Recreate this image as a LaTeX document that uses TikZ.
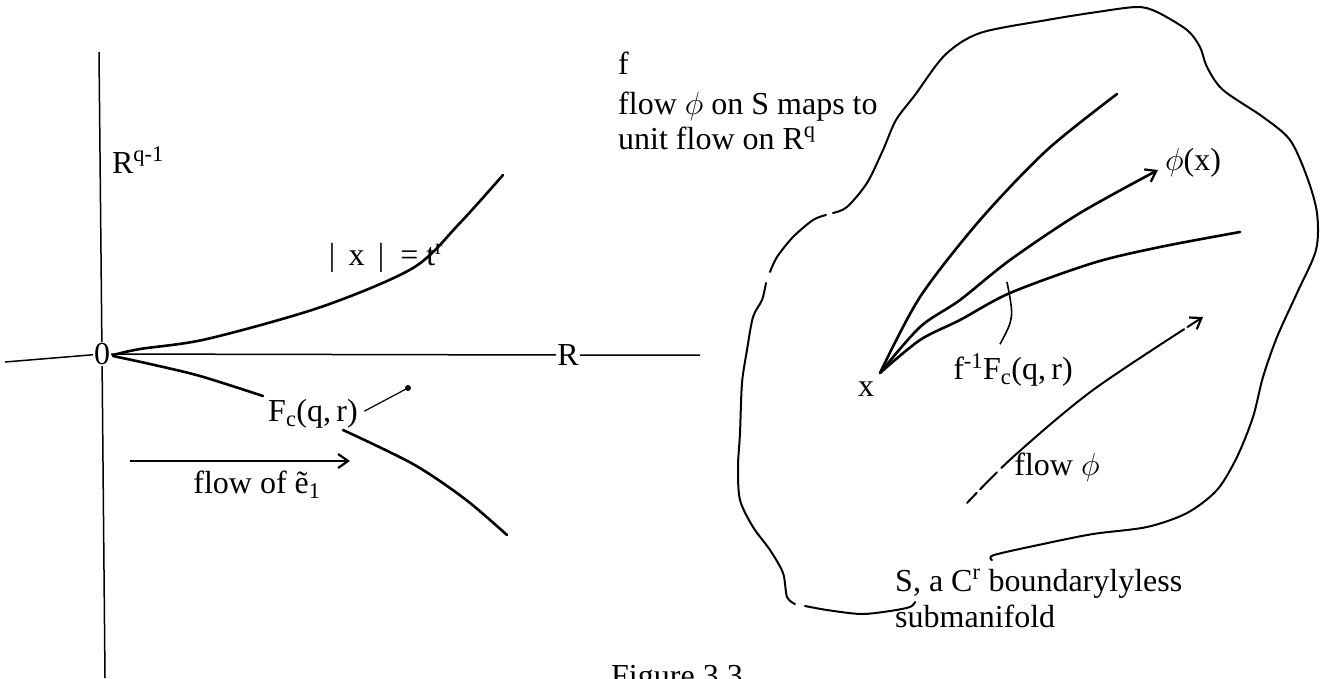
\RequirePackage{fix-cm}
\documentclass[tikz,border=0pt]{standalone}
\usepackage{fontspec}
\setmainfont{Liberation Serif}
\usetikzlibrary{arrows.meta}
\begin{document}
\begin{tikzpicture}[x=1pt,y=-1pt,
    every node/.style={font=\fontsize{32}{38}\selectfont},
    axis/.style={line width=1.5pt},
    curve/.style={line width=2.6pt,line cap=round},
    rim/.style={line width=2pt,line cap=round,line join=round},
    lbl/.style={inner sep=1pt},
    barb/.style={-{Straight Barb[length=10pt,width=14pt,line width=2.2pt]}}]
            \useasboundingbox (0,0) rectangle (1326,678);
            \node[lbl] (zero) at (102,354) {0};
            \node[lbl] (Raxis) at (568,355) {R};
            \coordinate (vtop) at (99,52);
            \coordinate (vbot) at (105,678);
            \coordinate (hleft) at (5,362);
            \coordinate (hright) at (700,355);
            \draw[axis] (vtop) -- (zero);
            \draw[axis] (zero) -- (vbot);
            \draw[axis] (hleft) -- (zero) -- (Raxis) -- (hright);
            \node[lbl] (Rq) at (138,160) {R\textsuperscript{q-1}};
            \draw[curve] plot[smooth] coordinates {(113,355) (140,349) (207,339) (321,307) (413,268) (459,224) (503,175)};
            \node[lbl] (xtr) at (386,258) {|\ \,x\ \,|\ \ =\ t\textsuperscript{r}};
            \draw[curve] plot[smooth] coordinates {(113,356) (150,364) (200,376) (263,396)};
            \draw[curve] plot[smooth] coordinates {(343,430) (413,464) (465,499) (507,535)};
            \node[lbl] (Fc) at (313,414) {F\textsubscript{c}(q,\,r)};
            \coordinate (Fcdot) at (408,388);
            \fill (Fcdot) circle (3);
            \draw[line width=1.2pt, shorten <=6pt] (Fc.east) -- (Fcdot);
            \node[lbl] (flowe) at (257,485) {flow of ẽ\textsubscript{1}};
            \coordinate (e1start) at (130,461);
            \coordinate (e1end) at (350,461);
            \draw[line width=2pt, barb] (e1start) -- (e1end);
            \node[lbl, anchor=base west] (f) at (617,74) {f};
            \node[lbl, anchor=base west] (maps) at (617,114) {flow $\phi$ on S maps to};
            \node[lbl, anchor=base west] (unit) at (617,149) {unit flow on R\textsuperscript{q}};
            \draw[rim] plot[smooth] coordinates {(992,560) (994,555) (1043,544) (1093,534) (1147,527) (1187,513) (1217,490) (1237,457) (1253,417) (1263,377) (1277,337) (1297,293) (1316,250) (1317,213) (1307,177) (1290,140) (1263,117) (1223,90) (1207,67) (1200,47) (1187,30) (1157,12) (1137,7) (1097,12) (1047,20) (980,33) (945,55) (915,95) (896,120) (883,150) (867,183) (847,207) (833,213)};
            \draw[rim] plot[smooth] coordinates {(826,215) (813,220) (793,237) (777,257) (770,272)};
            \draw[rim] plot[smooth] coordinates {(766,283) (762,300) (753,317) (747,350) (742,383) (740,433) (738,467) (740,500) (753,527) (770,550) (783,573) (787,597) (795,604)};
            \draw[rim] plot[smooth] coordinates {(805,606) (827,610) (861,614) (890,611) (910,607) (915,602)};
            \coordinate (xpt) at (880,373);
            \node[lbl] (xlbl) at (866,389) {x};
            \node[lbl] (phix) at (1193,163) {$\phi$(x)};
            \draw[curve] plot[smooth] coordinates {(xpt) (920,297) (980,220) (1047,150) (1117,94)};
            \draw[curve, barb] plot[smooth] coordinates {(xpt) (920,327) (960,300) (1010,260) (1080,213) (1158,170)};
            \draw[curve] plot[smooth] coordinates {(xpt) (920,340) (960,320) (1010,293) (1093,263) (1160,247) (1240,232)};
            \node[lbl] (f1Fc) at (1013,370) {f\textsuperscript{-1}F\textsubscript{c}(q,\,r)};
            \coordinate (tick) at (1007,282);
            \draw[line width=1.6pt] ([xshift=-13pt,yshift=8pt]f1Fc.north) .. controls (1014,318) .. (tick);
            \node[lbl] (flowphi) at (1057,467) {flow $\phi$};
            \coordinate (fpstart) at (967,503);
            \coordinate (fpend) at (1203,317);
            \draw[rim, barb, dash pattern=on 14pt off 5pt on 24pt off 6pt on 230pt off 4pt on 60pt] plot[smooth] coordinates {(fpstart) (1013,457) (1093,390) (fpend)};
            \node[lbl, anchor=base west] (Sa) at (894,591) {S, a C\textsuperscript{r} boundarylyless};
            \node[lbl, anchor=base west] (subm) at (894,627) {submanifold};
            \node[lbl, anchor=base west] (fig) at (610,686) {Figure 3.3};
\end{tikzpicture}
\end{document}
